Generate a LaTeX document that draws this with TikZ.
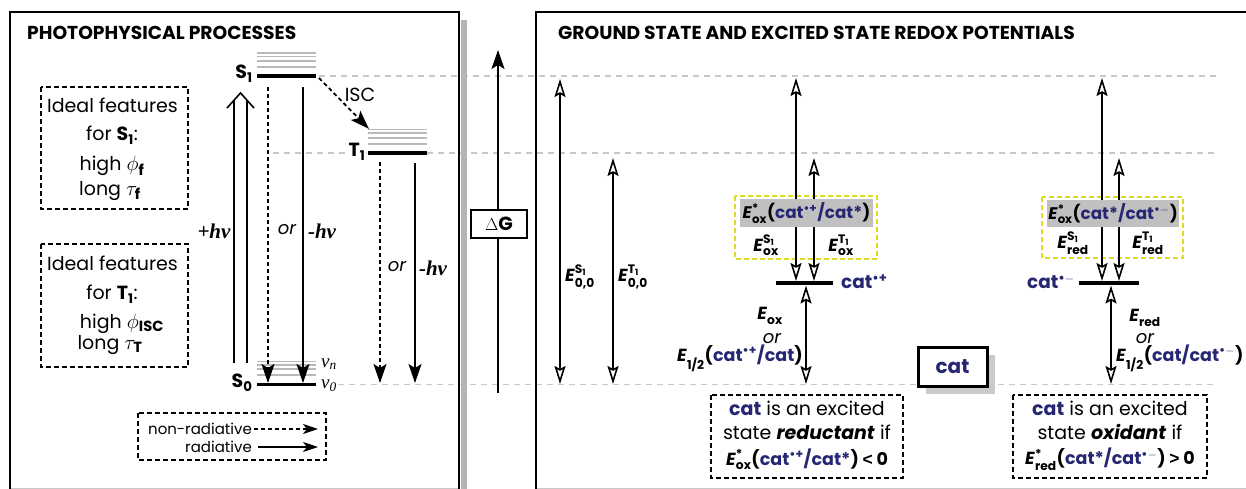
\documentclass[tikz,border=0pt]{standalone}
\usepackage{amsmath}
\usepackage[no-math]{fontspec}
\setmainfont{Poppins}
\newfontfamily\tms{Liberation Serif}
\newfontfamily\lsans{Liberation Sans}
\usetikzlibrary{arrows.meta}
\definecolor{navy}{RGB}{38,38,115}
\definecolor{guide}{RGB}{200,200,200}
\definecolor{yel}{RGB}{220,220,30}
\definecolor{grayf}{RGB}{192,192,192}
\definecolor{vib}{RGB}{185,185,185}
\definecolor{shad}{RGB}{180,180,180}
\newcommand{\cA}{\textcolor{navy}{cat}}
\newcommand{\cRC}{\textcolor{navy}{cat$^{\text{\textbullet+}}$}}
\newcommand{\cRA}{\textcolor{navy}{cat$^{\text{\textbullet}-}$}}
\newcommand{\cSt}{\textcolor{navy}{cat*}}
\newcommand{\sls}{\textcolor{navy}{/}}
\newcommand{\EE}[2]{\textit{E}$^{\text{#1}}_{\text{#2}}$}
\begin{document}
\begin{tikzpicture}[x=1pt,y=-1pt,
  T/.style={font=\fontsize{19}{21}\selectfont, inner sep=0pt},
  OR/.style={font=\fontsize{18}{20}\selectfont\itshape, inner sep=0pt},
  TL/.style={font=\fontsize{19}{21}\selectfont\bfseries, inner sep=0pt},
  EL/.style={font=\fontsize{17.5}{19}\selectfont\bfseries, inner sep=0pt},
  GL/.style={font=\fontsize{16.8}{19}\selectfont\bfseries, inner sep=0pt},
  HV/.style={font=\fontsize{21}{23}\selectfont\tms\bfseries\itshape, inner sep=0pt},
  NU/.style={font=\fontsize{19}{21}\selectfont\tms\itshape, inner sep=0pt},
  LG/.style={font=\fontsize{15}{17}\selectfont, inner sep=0pt},
  HT/.style={font=\fontsize{18.7}{21}\selectfont\bfseries, inner sep=0pt, anchor=west},
  lvl/.style={line width=3.8pt},
  vibln/.style={draw=vib, line width=1.6pt},
  guideln/.style={draw=guide, line width=1.4pt, dash pattern=on 6pt off 5pt},
  rad/.style={line width=1.6pt, -{Stealth[length=19pt,width=13pt,inset=4pt]}},
  nrad/.style={rad, line width=1.8pt, dash pattern=on 4pt off 3pt},
  legrad/.style={line width=1.5pt, -{Stealth[length=15pt,width=10pt,inset=4pt]}},
  legnrad/.style={legrad, dash pattern=on 4pt off 3pt},
  oarr/.style={line width=1.6pt, {Stealth[open,length=18pt,width=11pt,inset=3pt]}-{Stealth[open,length=18pt,width=11pt,inset=3pt]}},
  dbox/.style={draw, line width=1.9pt, dash pattern=on 5pt off 3pt},
  ybox/.style={draw=yel, line width=1.7pt, dash pattern=on 5pt off 3pt},
  gbox/.style={fill=grayf, inner sep=0pt},
  panel/.style={line width=2pt},
]
\useasboundingbox (0,0) rectangle (1246,489);

% guide lines
\draw[guideln] (319,76) -- (1217,76);
\draw[guideln] (273,153) -- (1217,153);
\draw[guideln] (338,384.5) -- (1217,384.5);

% panels
\fill[shad] (461,20) rectangle (467,489);
\draw[panel] (10,489) -- (10,12) -- (459,12) -- (459,489);
\draw[panel] (536,489) -- (536,12) -- (1250,12);
\draw[guide, line width=1pt] (11,488) -- (458,488);
\draw[guide, line width=1pt] (537,488) -- (1246,488);

\node[HT] (t1) at (27,33) {PHOTOPHYSICAL PROCESSES};
\node[HT] (t2) at (558,33) {GROUND STATE AND EXCITED STATE REDOX POTENTIALS};

% ---------------- left panel: Jablonski ----------------
\foreach \yy in {53,56.5,61,67} \draw[vibln] (257,\yy) -- (316,\yy);
\foreach \yy in {129.5,133,138,144} \draw[vibln] (368,\yy) -- (427,\yy);
\foreach \yy in {361.5,365,369,375} \draw[vibln] (257,\yy) -- (316,\yy);

\coordinate (S1a) at (257,76); \coordinate (S1b) at (316,76);
\coordinate (T1a) at (368,153); \coordinate (T1b) at (427,153);
\coordinate (S0a) at (257,384.5); \coordinate (S0b) at (316,384.5);
\draw[lvl] (S1a) -- (S1b);
\draw[lvl] (T1a) -- (T1b);
\draw[lvl] (S0a) -- (S0b);

\node[TL] (S1) at (244,74) {S\textsubscript{1}};
\node[TL, fill=white, inner sep=1pt] (T1) at (357,152) {T\textsubscript{1}};
\node[TL] (S0) at (242,383) {S\textsubscript{0}};
\node[NU] (vn) at (329,364) {ν\textsubscript{\itshape n}};
\node[NU] (v0) at (329,386) {ν\textsubscript{0}};

% ISC
\coordinate (isc0) at (319,78); \coordinate (isc1) at (369,129);
\draw[nrad] (isc0) -- (isc1);
\node[T] (isc) at (360,95) {ISC};

% absorption (double arrow)
\coordinate (ab1a) at (234,363); \coordinate (ab1b) at (234,100);
\coordinate (ab2a) at (247,363); \coordinate (ab2b) at (247,100);
\draw[line width=1.6pt] (ab1a) -- (ab1b);
\draw[line width=1.6pt] (ab2a) -- (ab2b);
\coordinate (chl) at (227,108); \coordinate (chm) at (240.5,93); \coordinate (chr) at (254,108);
\draw[line width=1.6pt, line join=miter] (chl) -- (chm) -- (chr);
\node[HV] (hv1) at (214,231) {+hν};

% S1 decay
\coordinate (d1a) at (268,87); \coordinate (d1b) at (268,383);
\coordinate (r1a) at (303,87); \coordinate (r1b) at (303,383);
\draw[nrad] (d1a) -- (d1b);
\draw[rad] (r1a) -- (r1b);
\node[OR] (or1) at (287,230) {or};
\node[HV] (hv2) at (322,231) {-hν};

% T1 decay
\coordinate (d2a) at (380,162); \coordinate (d2b) at (380,383);
\coordinate (r2a) at (415,163); \coordinate (r2b) at (415,383);
\draw[nrad] (d2a) -- (d2b);
\draw[rad] (r2a) -- (r2b);
\node[OR] (or2) at (397,267) {or};
\node[HV] (hv3) at (433,268) {-hν};

% Ideal feature boxes
\draw[dbox] (41,87) rectangle (188,209);
\node[T] (fs1) at (112.5,105) {Ideal features};
\node[T] (fs2) at (112,135) {for \textbf{S\textsubscript{1}}:};
\node[T] (fs3) at (112,166) {high {\fontsize{21}{21}\selectfont$\phi_{\text{\bfseries f}}$}};
\node[T] (fs4) at (110,191) {long {\fontsize{21}{21}\selectfont$\tau_{\text{\bfseries f}}$}};

\draw[dbox] (41,244) rectangle (188,367);
\node[T] (ft1) at (112.5,263) {Ideal features};
\node[T] (ft2) at (112,294) {for \textbf{T\textsubscript{1}}:};
\node[T] (ft3) at (122,324) {high {\fontsize{21}{21}\selectfont$\phi_{\text{\bfseries ISC}}$}};
\node[T] (ft4) at (110,345) {long {\fontsize{21}{21}\selectfont$\tau_{\text{\bfseries T}}$}};

% legend
\draw[dbox] (138,413) rectangle (326,460);
\node[LG, anchor=east] (lnr) at (252,429) {non-radiative};
\node[LG, anchor=east] (lr) at (252,447) {radiative};
\coordinate (lnr1) at (318,429); \coordinate (lr1) at (318,447);
\coordinate (lnr0) at (254,429); \coordinate (lr0) at (258,447);
\draw[legnrad] (lnr0) -- (lnr1);
\draw[legrad] (lr0) -- (lr1);

% ---------------- middle: Delta G ----------------
\coordinate (dg0) at (498,393); \coordinate (dg1) at (498,50);
\draw[rad] (dg0) -- (dg1);
\node[draw, line width=1.7pt, fill=white, minimum width=56pt, minimum height=28pt, inner sep=0pt,
      font=\fontsize{19}{21}\selectfont] (dG) at (499,224) {$\Delta$\textbf{G}};

% ---------------- right panel ----------------
\coordinate (e1a) at (560,79); \coordinate (e1b) at (560,384);
\coordinate (e2a) at (613,158); \coordinate (e2b) at (613,384);
\draw[oarr] (e1a) -- (e1b);
\draw[oarr] (e2a) -- (e2b);
\node[EL] (ES) at (580,277) {\EE{S\textsubscript{1}}{0,0}};
\node[EL] (ET) at (633,277) {\EE{T\textsubscript{1}}{0,0}};

% oxidation side
\coordinate (ox0) at (776,283); \coordinate (ox1) at (833,283);
\draw[lvl] (ox0) -- (ox1);
\node[EL, anchor=west, font=\fontsize{18.5}{20}\selectfont\bfseries] (rc) at (841,282) {\cRC};
\draw[ybox] (735,196) rectangle (877,259);
\coordinate (oxa1) at (796,78); \coordinate (oxa2) at (796,281);
\coordinate (oxb1) at (814,158); \coordinate (oxb2) at (814,281);
\coordinate (oxc1) at (806,285.5); \coordinate (oxc2) at (806,384);
\draw[oarr] (oxa1) -- (oxa2);
\draw[oarr] (oxb1) -- (oxb2);
\draw[oarr] (oxc1) -- (oxc2);
\node[gbox, minimum width=133pt, minimum height=28pt] (gx) at (806.5,213) {};
\node[GL] (gxt) at (gx.center) {\EE{*}{ox}(\cRC\sls\cSt)};
\node[EL] (eso) at (766,245) {\EE{S\textsubscript{1}}{ox}};
\node[EL] (eto) at (841,245) {\EE{T\textsubscript{1}}{ox}};
\node[EL] (eox) at (770,316) {\EE{}{ox}};
\node[OR] (or3) at (772,339) {or};
\node[EL, anchor=east] (e12a) at (803,358) {\EE{}{1/2}(\cRC\sls\cA)};

\draw[dbox] (711,395) rectangle (903,478);
\node[T] (rd1) at (807,408) {\textbf{\cA} is an excited};
\node[T] (rd2) at (807,432) {state \textbf{\textit{reductant}} if};
\node[EL] (rd3) at (807,459) {\EE{*}{ox}(\cRC\sls\cSt) {\lsans <} 0};

% cat box
\fill[shad!70] (926,355) rectangle (995,394);
\node[draw, line width=3pt, fill=white, minimum width=69pt, minimum height=39pt, inner sep=0pt,
      font=\fontsize{20}{22}\selectfont\bfseries] (cat) at (952.5,366.5) {\cA};

% reduction side
\coordinate (rd0) at (1079,283); \coordinate (rdb) at (1139,283);
\draw[lvl] (rd0) -- (rdb);
\node[EL, anchor=east, font=\fontsize{18.5}{20}\selectfont\bfseries] (ra) at (1075,282) {\cRA};
\draw[ybox] (1042,197) rectangle (1183,258);
\coordinate (rda1) at (1102,78); \coordinate (rda2) at (1102,281);
\coordinate (rdb1) at (1119,158); \coordinate (rdb2) at (1119,281);
\coordinate (rdc1) at (1111,285.5); \coordinate (rdc2) at (1111,384);
\draw[oarr] (rda1) -- (rda2);
\draw[oarr] (rdb1) -- (rdb2);
\draw[oarr] (rdc1) -- (rdc2);
\node[gbox, minimum width=132pt, minimum height=27pt] (gr) at (1113,213.5) {};
\node[GL] (grt) at (gr.center) {\EE{*}{ox}(\cSt\sls\cRA)};
\node[EL] (esr) at (1073,243) {\EE{S\textsubscript{1}}{red}};
\node[EL] (etr) at (1148,243) {\EE{T\textsubscript{1}}{red}};
\node[EL] (ered) at (1145,318) {\EE{}{red}};
\node[OR] (or4) at (1145,339) {or};
\node[EL, anchor=west] (e12b) at (1116,358) {\EE{}{1/2}(\cA\sls\cRA)};

\draw[dbox] (1013,395) rectangle (1207,478);
\node[T] (ox1t) at (1110,408) {\textbf{\cA} is an excited};
\node[T] (ox2t) at (1110,432) {state \textbf{\textit{oxidant}} if};
\node[EL] (ox3t) at (1110,459) {\EE{*}{red}(\cSt\sls\cRA) {\lsans >} 0};
\end{tikzpicture}
\end{document}
